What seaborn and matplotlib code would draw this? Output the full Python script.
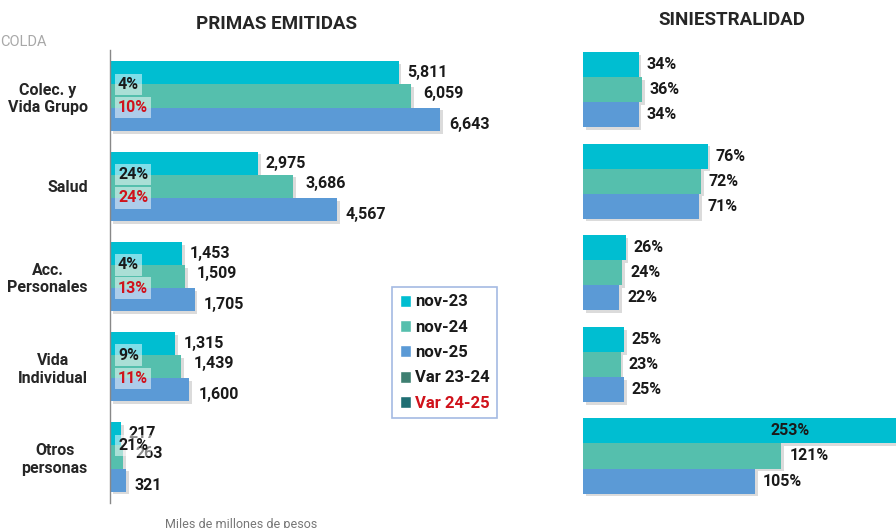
import numpy as np
import pandas as pd
import matplotlib
matplotlib.use("Agg")
import matplotlib.pyplot as plt
import matplotlib.patheffects as pe
from matplotlib.patches import Patch
import seaborn as sns

categories = ["Colec. y\nVida Grupo", "Salud", "Acc.\nPersonales", "Vida\nIndividual", "Otros\npersonas"]
periods = ["nov-23", "nov-24", "nov-25"]
primas_nov23 = [5811, 2975, 1453, 1315, 217]
primas_nov24 = [6059, 3686, 1509, 1439, 263]
primas_nov25 = [6643, 4567, 1705, 1600, 321]
var_23_24 = ["4%", "24%", "4%", "9%", "21%"]
var_24_25 = ["10%", "24%", "13%", "11%", None]
sini_nov23 = [34, 76, 26, 25, 253]
sini_nov24 = [36, 72, 24, 23, 121]
sini_nov25 = [34, 71, 22, 25, 105]

colors = ["#00BED1", "#55BFAD", "#5B9AD6"]
var_colors = ["#3E7F71", "#1F6E73"]

sns.set_style("white")
plt.rcParams["font.family"] = ["Roboto", "DejaVu Sans"]

def long_df(a, b, c):
    rows = []
    for vals, p in zip([a, b, c], periods):
        for cat, v in zip(categories, vals):
            rows.append({"cat": cat, "period": p, "value": v})
    return pd.DataFrame(rows)

df_p = long_df(primas_nov23, primas_nov24, primas_nov25)
df_s = long_df(sini_nov23, sini_nov24, sini_nov25)

W, H = 896, 528
fig = plt.figure(figsize=(W / 100, H / 100), dpi=100)

def ax_rect(x0, y0, x1, y1):
    return [x0 / W, 1 - y1 / H, (x1 - x0) / W, (y1 - y0) / H]

axL = fig.add_axes(ax_rect(110, 50, 500, 503))
axR = fig.add_axes(ax_rect(583, 43.7, 896, 501.8))

shadow = [pe.SimplePatchShadow(offset=(2, -2), shadow_rgbFace="#888888", alpha=0.3), pe.Normal()]

sns.barplot(data=df_p, y="cat", x="value", hue="period", orient="h", palette=colors,
            width=0.77, ax=axL, legend=False, saturation=1)
sns.barplot(data=df_s, y="cat", x="value", hue="period", orient="h", palette=colors,
            width=0.82, ax=axR, legend=False, saturation=1)

for ax in (axL, axR):
    for cont in ax.containers:
        for bar in cont:
            bar.set_path_effects(shadow)
            bar.set_edgecolor("none")

axL.set_xlim(0, 7850)
axL.set_ylim(4.51, -0.51)
axR.set_xlim(0, 191)
axR.set_ylim(4.5, -0.5)

VAL_FS = 11.5
# Left value labels
label_offsets = [(8, 0), (12, 3), (9, -5)]
for k, cont in enumerate(axL.containers):
    dx, dy = label_offsets[k]
    for bar, v in zip(cont, [primas_nov23, primas_nov24, primas_nov25][k]):
        axL.annotate(f"{v:,}", (bar.get_width(), bar.get_y() + bar.get_height() / 2),
                     xytext=(dx, dy), textcoords="offset pixels", ha="left", va="center",
                     fontsize=VAL_FS, fontweight="bold", color="#1a1a1a")

# Variation labels
wgrp = 0.77
for i in range(len(categories)):
    for j, (lab, col) in enumerate([(var_23_24[i], "#1a1a1a"), (var_24_25[i], "#D0121B")]):
        if lab is None:
            continue
        y = i + (-1 if j == 0 else 1) * wgrp / 6
        axL.annotate(lab, (0, y), xytext=(8, 0), textcoords="offset pixels", ha="left", va="center",
                     fontsize=VAL_FS, fontweight="bold", color=col,
                     bbox=dict(boxstyle="square,pad=0.2", fc="white", ec="none", alpha=0.5))

# Right labels
sini_all = [sini_nov23, sini_nov24, sini_nov25]
xmax = axR.get_xlim()[1]
for k, cont in enumerate(axR.containers):
    for bar, v in zip(cont, sini_all[k]):
        yc = bar.get_y() + bar.get_height() / 2
        if v > xmax:
            axR.text(v / 2, yc, f"{v}%", ha="center", va="center", fontsize=VAL_FS,
                     fontweight="bold", color="#1a1a1a")
        else:
            axR.annotate(f"{v}%", (bar.get_width(), yc), xytext=(8, 0), textcoords="offset pixels",
                         ha="left", va="center", fontsize=VAL_FS, fontweight="bold", color="#1a1a1a")

for s in ["top", "right", "bottom"]:
    axL.spines[s].set_visible(False)
axL.spines["left"].set_color("#888888")
axL.spines["left"].set_linewidth(1)
for s in axR.spines.values():
    s.set_visible(False)
axL.set_xticks([])
axR.set_xticks([])
axR.set_yticks([])
axL.set_xlabel("")
axL.set_ylabel("")
axR.set_xlabel("")
axR.set_ylabel("")
axL.tick_params(axis="y", length=0, pad=16)
for t in axL.get_yticklabels():
    t.set_fontweight("bold")
    t.set_fontsize(11.5)
    t.set_ha("right")
    t.set_multialignment("center")

# Titles
fig.text(277 / W, 1 - 24 / H, "PRIMAS EMITIDAS", ha="center", va="center", fontsize=13.5, fontweight="bold")
fig.text(732 / W, 1 - 20 / H, "SINIESTRALIDAD", ha="center", va="center", fontsize=13.5, fontweight="bold")
fig.text(0, 1 - 42 / H, "COLDA", ha="left", va="center", fontsize=10.5, color="#A8A8A8")
fig.text(165 / W, 1 - 518 / H, "Miles de millones de pesos", ha="left", va="top", fontsize=9, color="#777777")

# Legend
handles = [Patch(facecolor=c, label=p) for c, p in zip(colors, periods)]
handles += [Patch(facecolor=var_colors[0], label="Var 23-24"), Patch(facecolor=var_colors[1], label="Var 24-25")]
leg = axL.legend(handles=handles, loc="upper left", bbox_to_anchor=((392 - 110) / 390, 1 - (287 - 50) / 453),
                 frameon=True, fancybox=False, handlelength=0.7, handleheight=0.7, handletextpad=0.25,
                 borderpad=0.45, borderaxespad=0, labelspacing=0.62, prop={"weight": "bold", "size": 12})
leg.get_frame().set_edgecolor("#8EA9DB")
leg.get_frame().set_linewidth(1.2)
for t in leg.get_texts():
    t.set_color("#1a1a1a")
leg.get_texts()[-1].set_color("#D0121B")

fig.savefig("out.png", dpi=100)
